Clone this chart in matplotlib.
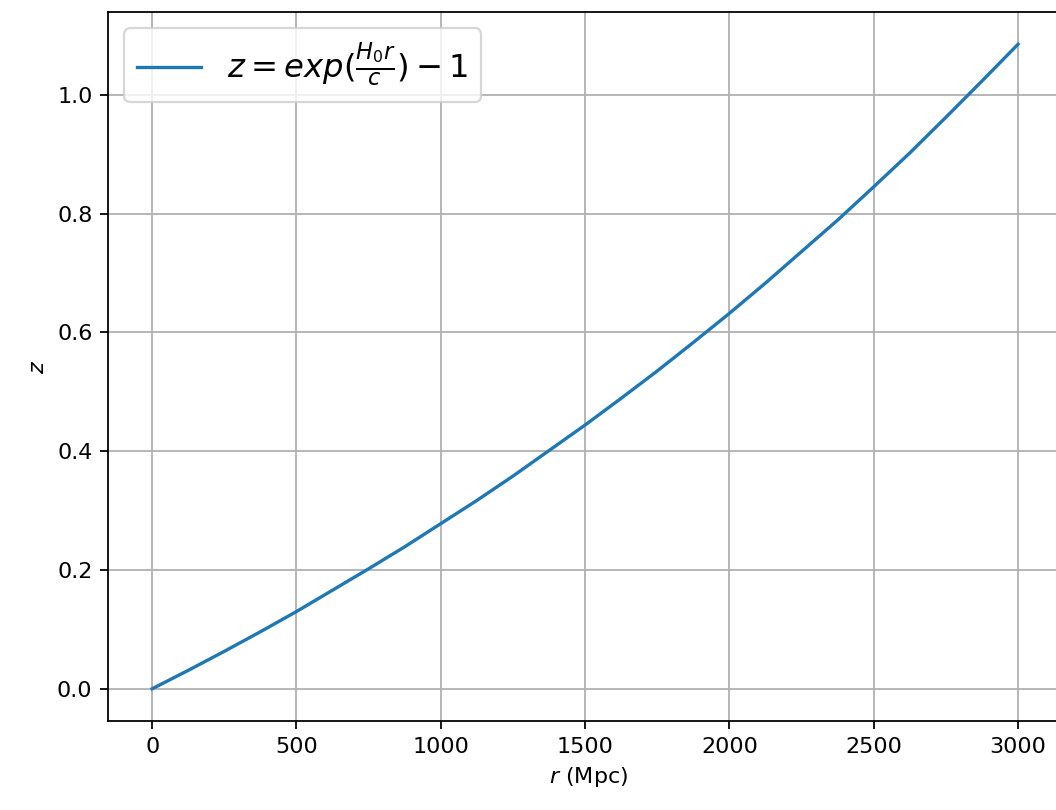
import matplotlib
matplotlib.use("Agg")
import matplotlib.pyplot as plt

# distance (Mpc) and redshift
r_mpc = [0, 125, 250, 375, 500, 625, 750, 875, 1000, 1125, 1250, 1375, 1500,
         1625, 1750, 1875, 2000, 2125, 2250, 2375, 2500, 2625, 2750, 2875, 3000]
z_vals = [0.0, 0.031, 0.063, 0.096, 0.130, 0.166, 0.202, 0.239, 0.278, 0.317,
          0.358, 0.401, 0.444, 0.489, 0.535, 0.583, 0.632, 0.683, 0.736, 0.789,
          0.845, 0.902, 0.962, 1.023, 1.085]

legend_label = r'$z = exp(\frac{H_0 r}{c}) - 1$'

W, H = 1056, 810
fig = plt.figure(figsize=(W / 160, H / 160), dpi=160)
# right edge of the axes sits just past the figure border, as in the reference crop
ax = fig.add_axes([108 / W, 1 - 721 / H, (1070 - 108) / W, (721 - 12) / H])

ax.plot(r_mpc, z_vals, label=legend_label)
ax.set_xlim(-153, 3180)
ax.set_xlabel(r'$r$ (Mpc)')
ax.set_ylabel(r'$z$')
ax.grid(True)
ax.spines['right'].set_visible(False)
ax.legend(loc='upper left', fontsize=14.5)

fig.savefig("out.png", dpi=160)
